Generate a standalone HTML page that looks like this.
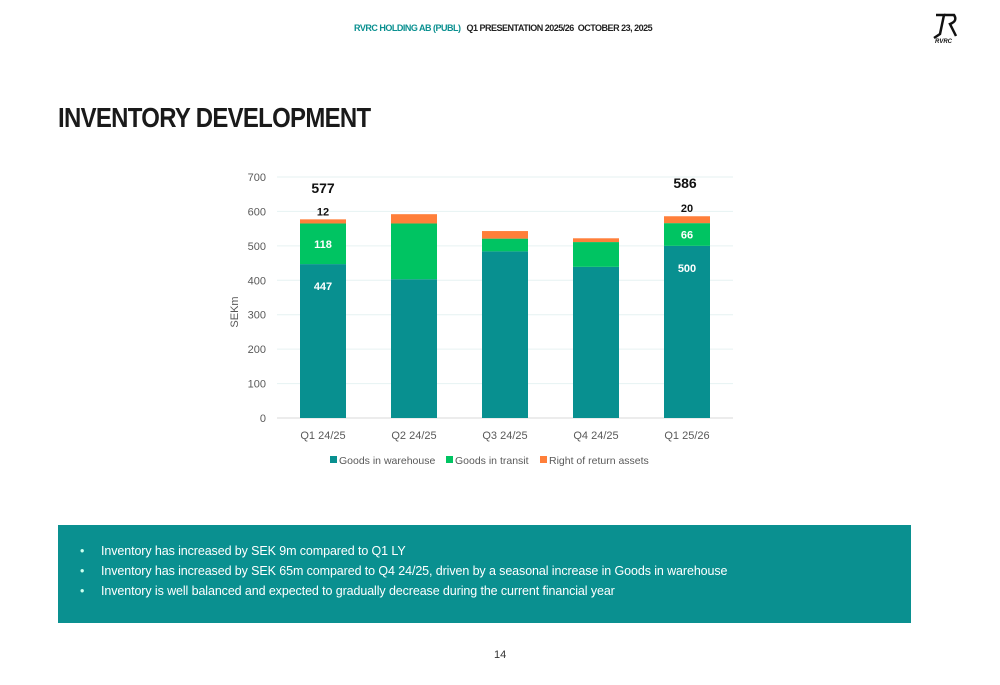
<!DOCTYPE html>
<html><head><meta charset="utf-8"><style>
body{margin:0;width:1000px;height:685px;background:#fff;font-family:"Liberation Sans",sans-serif;position:relative;overflow:hidden}
.hdr{position:absolute;top:23px;left:354px;font-size:9px;font-weight:bold;letter-spacing:-0.5px;white-space:nowrap}
h1{position:absolute;left:58px;top:102px;margin:0;font-size:28px;font-weight:bold;color:#1a1a1a;letter-spacing:-0.8px;transform:scaleX(0.855);transform-origin:0 0;white-space:nowrap}
.box{position:absolute;left:58px;top:525px;width:853px;height:98px;background:#0a9090;color:#fff;font-size:12.5px;letter-spacing:-0.1px}
.box ul{margin:0;padding:0;list-style:none;position:absolute;top:19px;left:22px}
.box li{height:20px;line-height:14px;padding-left:21px;position:relative}
.box li:before{content:"•";position:absolute;left:0;color:#cfe}
.pg{position:absolute;top:649px;left:494px;font-size:11px;color:#333}
</style></head><body>
<div class="hdr"><span style="color:#0a9090">RVRC HOLDING AB (PUBL)</span>&nbsp;&nbsp; <span style="color:#222">Q1 PRESENTATION 2025/26&nbsp; OCTOBER 23, 2025</span></div>
<svg style="position:absolute;left:930px;top:12px" width="40" height="34" viewBox="0 0 40 34"><path d="M6 3 L14 3 L10 22 L4 26" stroke="#111" stroke-width="2.5" fill="none"/><path d="M14 3 L24 3 Q28 9 20 12 L26 24" stroke="#111" stroke-width="2.5" fill="none"/><text x="5" y="31" font-size="6" font-style="italic" font-weight="bold" fill="#111">RVRC</text></svg>
<h1>INVENTORY DEVELOPMENT</h1>
<svg id="chart" width="1000" height="685" style="position:absolute;left:0;top:0"></svg>
<div class="box"><ul>
<li>Inventory has increased by SEK 9m compared to Q1 LY</li>
<li>Inventory has increased by SEK 65m compared to Q4 24/25, driven by a seasonal increase in Goods in warehouse</li>
<li>Inventory is well balanced and expected to gradually decrease during the current financial year</li>
</ul></div>
<div class="pg">14</div>
<script>
const categories=["Q1 24/25","Q2 24/25","Q3 24/25","Q4 24/25","Q1 25/26"];
const warehouse=[447,403,484,439,500];
const transit=[118,162,37,72,66];
const returns=[12,27,22,11,20];
const showLabels=[true,false,false,false,true];
const totals=[577,592,543,522,586];
const yTicks=[0,100,200,300,400,500,600,700];
const seriesNames=["Goods in warehouse","Goods in transit","Right of return assets"];
const colors=["#089090","#00c462","#ff7f3a"];
const NS="http://www.w3.org/2000/svg";
const svg=document.getElementById("chart");
const y0=418,pxPer=241/700,x0=277,x1=733,step=91,bw=46,cx0=323;
const Y=v=>y0-v*pxPer, X=i=>cx0+i*step;
function mk(t,a,txt){const e=document.createElementNS(NS,t);for(const k in a)e.setAttribute(k,a[k]);if(txt!=null)e.textContent=txt;svg.appendChild(e);return e;}
yTicks.forEach(v=>{
 const l=mk("line",{x1:x0,x2:x1,y1:Y(v),y2:Y(v),stroke:v===0?"#d9d9d9":"#e6f2f2","stroke-width":1});
 
 
 const t=mk("text",{x:266,y:Y(v)+4,"text-anchor":"end","font-size":11,fill:"#595959"},v);
 
 
});
const yt=mk("text",{x:238,y:312,"text-anchor":"middle","font-size":11,fill:"#595959",transform:"rotate(-90 238 312)"},"SEKm");


categories.forEach((c,i)=>{
 const segs=[warehouse[i],transit[i],returns[i]];let base=0;
 segs.forEach((v,s)=>{
  const r=mk("rect",{x:X(i)-bw/2,y:Y(base+v),width:bw,height:v*pxPer,fill:colors[s]});
  
  
  if(showLabels[i]){
   const ly=s===2?Y(base+v)-4:(s===0?Y(base+v)+26:Y(base+v/2)+4);
   const lt=mk("text",{x:X(i),y:ly,"text-anchor":"middle","font-size":11,"font-weight":"bold",fill:s===2?"#111":"#fff"},v);
   
   
  }
  base+=v;
 });
 if(showLabels[i]){
  const tt=mk("text",{x:X(i)-(i===0?0:2),y:i===0?193:188,"text-anchor":"middle","font-size":14,"font-weight":"bold",fill:"#111"},totals[i]);
  
  
 }
 const xt=mk("text",{x:X(i),y:439,"text-anchor":"middle","font-size":11,fill:"#595959"},c);
 
 
});
const lx=[330,446,540];
seriesNames.forEach((n,s)=>{
 const r=mk("rect",{x:lx[s],y:456,width:7,height:7,fill:colors[s]});
 
 
 const t=mk("text",{x:lx[s]+9,y:464,"font-size":10.5,fill:"#595959"},n);
 
 
});
</script>
</body></html>
